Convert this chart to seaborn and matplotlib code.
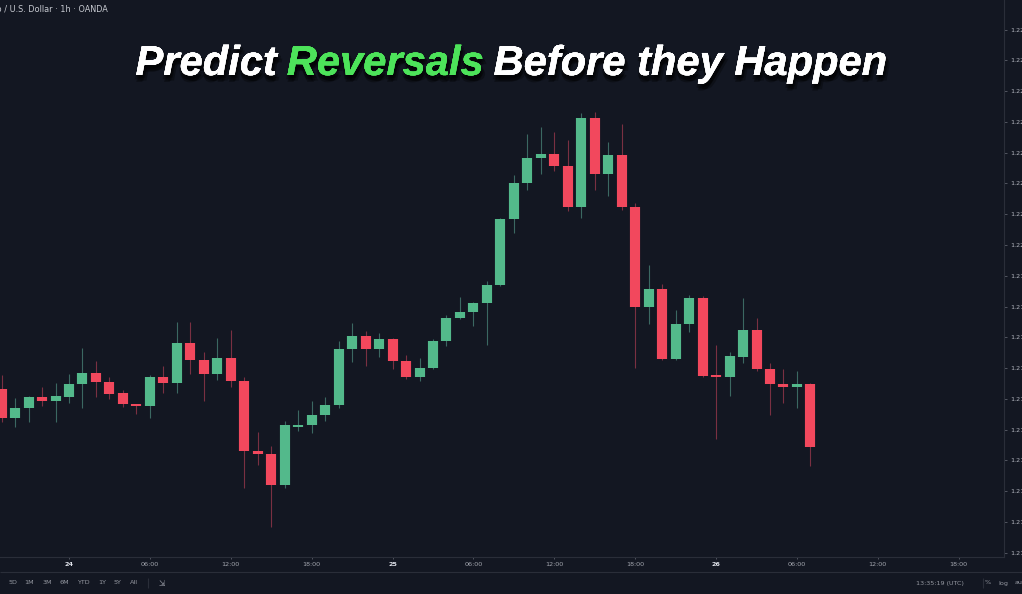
import numpy as np
import pandas as pd
import matplotlib.pyplot as plt
import matplotlib.patheffects as pe
import seaborn as sns

# EUR/USD hourly candles (OANDA), 23 Feb 19:00 -> 26 Feb 07:00
times = pd.date_range("2021-02-23 19:00", periods=61, freq="h")
opens = [1.21766, 1.21719, 1.21735, 1.21753, 1.21746, 1.21753, 1.21774, 1.21792, 1.21777, 1.21759,
         1.21741, 1.21738, 1.21785, 1.21776, 1.21841, 1.21813, 1.21790, 1.21816, 1.21779, 1.21665,
         1.21660, 1.21610, 1.21705, 1.21707, 1.21724, 1.21740, 1.21831, 1.21852, 1.21831, 1.21847,
         1.21811, 1.21785, 1.21800, 1.21844, 1.21881, 1.21891, 1.21906, 1.21935, 1.22042, 1.22101,
         1.22141, 1.22148, 1.22128, 1.22062, 1.22207, 1.22115, 1.22146, 1.22062, 1.21899, 1.21928,
         1.21815, 1.21872, 1.21914, 1.21789, 1.21785, 1.21818, 1.21862, 1.21798, 1.21774, 1.21769,
         1.21774]
highs = [1.21789, 1.21751, 1.21755, 1.21769, 1.21776, 1.21790, 1.21833, 1.21811, 1.21785, 1.21764,
         1.21742, 1.21789, 1.21803, 1.21875, 1.21875, 1.21826, 1.21849, 1.21862, 1.21785, 1.21696,
         1.21673, 1.21714, 1.21732, 1.21746, 1.21753, 1.21844, 1.21873, 1.21860, 1.21857, 1.21849,
         1.21821, 1.21816, 1.21847, 1.21886, 1.21915, 1.21908, 1.21941, 1.22044, 1.22114, 1.22180,
         1.22192, 1.22184, 1.22171, 1.22215, 1.22216, 1.22167, 1.22197, 1.22068, 1.21968, 1.21937,
         1.21894, 1.21919, 1.21917, 1.21837, 1.21826, 1.21914, 1.21881, 1.21808, 1.21798, 1.21796,
         1.21776]
lows = [1.21712, 1.21705, 1.21712, 1.21738, 1.21712, 1.21743, 1.21735, 1.21753, 1.21750, 1.21737,
        1.21725, 1.21719, 1.21759, 1.21759, 1.21790, 1.21746, 1.21780, 1.21769, 1.21605, 1.21642,
        1.21541, 1.21605, 1.21698, 1.21694, 1.21714, 1.21735, 1.21810, 1.21803, 1.21818, 1.21798,
        1.21783, 1.21779, 1.21798, 1.21836, 1.21879, 1.21868, 1.21837, 1.21933, 1.22020, 1.22089,
        1.22115, 1.22120, 1.22055, 1.22044, 1.22089, 1.22080, 1.22057, 1.21800, 1.21872, 1.21813,
        1.21813, 1.21859, 1.21785, 1.21685, 1.21754, 1.21808, 1.21796, 1.21724, 1.21743, 1.21735,
        1.21641]
closes = [1.21719, 1.21735, 1.21753, 1.21746, 1.21754, 1.21774, 1.21792, 1.21777, 1.21758, 1.21741,
          1.21738, 1.21785, 1.21776, 1.21841, 1.21813, 1.21790, 1.21816, 1.21779, 1.21665, 1.21660,
          1.21610, 1.21707, 1.21707, 1.21724, 1.21740, 1.21831, 1.21852, 1.21831, 1.21847, 1.21811,
          1.21785, 1.21800, 1.21844, 1.21881, 1.21891, 1.21906, 1.21935, 1.22042, 1.22101, 1.22141,
          1.22148, 1.22128, 1.22062, 1.22207, 1.22115, 1.22146, 1.22062, 1.21899, 1.21928, 1.21815,
          1.21872, 1.21914, 1.21787, 1.21785, 1.21820, 1.21862, 1.21798, 1.21774, 1.21769, 1.21774,
          1.21672]

price_ticks = [1.2150, 1.2155, 1.2160, 1.2165, 1.2170, 1.2175, 1.2180, 1.2185, 1.2190,
               1.2195, 1.2200, 1.2205, 1.2210, 1.2215, 1.2220, 1.2225, 1.2230, 1.2235]
time_ticks = [0, 6, 12, 18, 24, 30, 36, 42, 48, 54, 60, 66]
time_labels = ["24", "06:00", "12:00", "18:00", "25", "06:00", "12:00", "18:00",
               "26", "06:00", "12:00", "18:00"]
ranges = ["5D", "1M", "3M", "6M", "YTD", "1Y", "5Y", "All"]

BG = "#131722"
UP = "#53b98b"
DOWN = "#f2485d"
UP_WICK = "#3b6862"
DOWN_WICK = "#7a3042"

sns.set_theme(style="dark")
plt.rcParams['lines.solid_capstyle'] = 'butt'

df = pd.DataFrame({'time': times, 'open': opens, 'high': highs, 'low': lows, 'close': closes})
df['h'] = (df['time'] - pd.Timestamp("2021-02-24")) / pd.Timedelta("1h")
df['dir'] = np.where(df['close'] >= df['open'], 'up', 'down')
df['i'] = range(len(df))

bodies = pd.concat([df[['i', 'h', 'dir']].assign(price=df['open']),
                    df[['i', 'h', 'dir']].assign(price=df['close'])])
wicks = pd.concat([df[['i', 'h', 'dir']].assign(price=df['low']),
                   df[['i', 'h', 'dir']].assign(price=df['high'])])

fig = plt.figure(figsize=(10.22, 5.94), dpi=100, facecolor=BG)
ax = fig.add_axes([0, 37 / 594, 1004 / 1022, 557 / 594])
ax.set_facecolor(BG)

sns.lineplot(data=wicks, x='h', y='price', units='i', estimator=None, hue='dir',
             palette={'up': UP_WICK, 'down': DOWN_WICK}, linewidth=0.8,
             legend=False, ax=ax, solid_capstyle='butt')
sns.lineplot(data=bodies, x='h', y='price', units='i', estimator=None, hue='dir',
             palette={'up': UP, 'down': DOWN}, linewidth=7.3,
             legend=False, ax=ax, solid_capstyle='butt')

ax.set_xlim(-5.12, 69.36)
ax.set_ylim(1.21493, 1.22398)
ax.set_xlabel("")
ax.set_ylabel("")
ax.grid(False)

for s in ['top', 'left']:
    ax.spines[s].set_visible(False)
for s in ['right', 'bottom']:
    ax.spines[s].set_visible(True)
    ax.spines[s].set_color("#2a2e39")
    ax.spines[s].set_linewidth(0.8)

# price scale is cut by the screenshot's right edge, as in the original
ax.yaxis.tick_right()
ax.set_yticks(price_ticks)
ax.set_yticklabels([f"{p:.4f}" for p in price_ticks])
ax.tick_params(axis='y', right=True, length=2.5, width=0.6, color="#5d606b", pad=2,
               labelsize=4.6, labelcolor="#b2b5be")
ax.set_xticks(time_ticks)
ax.set_xticklabels(time_labels)
ax.tick_params(axis='x', bottom=True, length=1.5, width=0.6, color="#5d606b", pad=2,
               labelsize=4.6, labelcolor="#a3a6af")
for lab in ax.get_xticklabels():
    if ":" not in lab.get_text():
        lab.set_color("#e0e3eb")
        lab.set_fontweight("bold")

# toolbar
fig.add_artist(plt.Line2D([0, 1], [1 - 572 / 594] * 2, color="#2a2e39", lw=0.8))
xs = [13, 29, 47, 64, 83, 102, 117, 134]
for x, r in zip(xs, ranges):
    fig.text(x / 1022, 1 - 583 / 594, r, ha='center', va='center', fontsize=4.6, color="#9598a1")
fig.add_artist(plt.Line2D([148 / 1022] * 2, [1 - 588 / 594, 1 - 578 / 594], color="#2a2e39", lw=0.8))
fig.text(162 / 1022, 1 - 583 / 594, "⇲", ha='center', va='center', fontsize=5.5, color="#9598a1")
fig.text(940 / 1022, 1 - 583 / 594, "13:35:19 (UTC)", ha='center', va='center', fontsize=4.6, color="#9598a1")
fig.add_artist(plt.Line2D([983 / 1022] * 2, [1 - 588 / 594, 1 - 578 / 594], color="#2a2e39", lw=0.8))
fig.text(988 / 1022, 1 - 583 / 594, "%", ha='center', va='center', fontsize=4.6, color="#9598a1")
fig.text(1003 / 1022, 1 - 583 / 594, "log", ha='center', va='center', fontsize=4.6, color="#9598a1")
fig.text(1015 / 1022, 1 - 583 / 594, "auto", ha='left', va='center', fontsize=4.6, color="#9598a1")

# symbol header (cut at the left edge)
fig.text(108 / 1022, 1 - 9 / 594, "Euro / U.S. Dollar · 1h · OANDA", ha='right', va='center',
         fontsize=5.9, color="#c8cbd2")

# title in three colours, soft dark shadow under it
parts = [("Predict", "white"), ("Reversals", "#4de35a"), ("Before they Happen", "white")]
title_kw = dict(fontsize=30, fontweight='bold', fontstyle='italic', family='Liberation Sans',
                va='baseline', ha='left')
shadow = [pe.withSimplePatchShadow(offset=o, shadow_rgbFace='black', alpha=0.3)
          for o in [(0, -1), (2, -2), (-1, -3), (1, -4), (3, -4), (0, -5)]] + [pe.Normal()]
fig.canvas.draw()
r = fig.canvas.get_renderer()
probe = fig.text(0, 0, "P P", **title_kw)
w_pp = probe.get_window_extent(r).width
probe.set_text("PP")
gap = w_pp - probe.get_window_extent(r).width
probe.remove()
texts = [fig.text(0, 1 - 75 / 594, t, color=c, path_effects=shadow, **title_kw) for t, c in parts]
widths = [t.get_window_extent(r).width for t in texts]
total = sum(widths) + gap * (len(texts) - 1)
x = 511 - total / 2
for t, w in zip(texts, widths):
    t.set_x(x / 1022)
    x += w + gap

fig.savefig("out.png", dpi=100, facecolor=BG)
